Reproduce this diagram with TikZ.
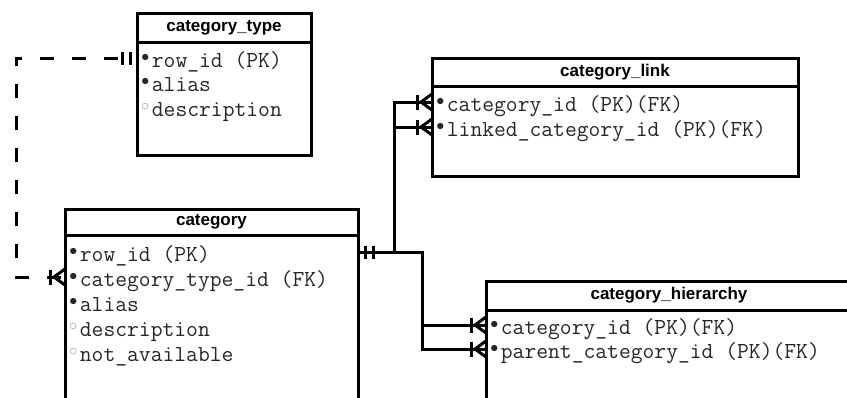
\documentclass[tikz,border=0pt]{standalone}
\usepackage{fontspec}
\setmainfont{Liberation Sans}
\usetikzlibrary{positioning}

% column marks: mandatory (filled) and nullable (open)
\newcommand{\req}{\raisebox{4.5pt}{$\scriptstyle\bullet$}\hspace{2pt}}
\newcommand{\opt}{\raisebox{4.5pt}{\color{black!40}$\scriptstyle\circ$}\hspace{2pt}}

\tikzset{
	tblhead/.style={draw, line width=2.25pt, outer sep=0pt, inner sep=0pt,
		font=\bfseries\fontsize{12.75}{14}\selectfont},
	tblbody/.style={draw, line width=2.25pt, outer sep=0pt, inner sep=0pt},
	col/.style={anchor=west, outer sep=0pt, inner xsep=3.2pt, inner ysep=0pt,
		text height=17pt, text depth=3pt, text=black!85,
		font=\ttfamily\fontsize{17.2}{19}\selectfont},
	rel/.style={line width=2.25pt},
	% one and only one
	one/.pic={
		\draw[rel] (-15,-6.5) -- (-15,6.5);
		\draw[rel] (-7,-6.5) -- (-7,6.5);
	},
	% one or many
	many/.pic={
		\draw[rel] (-15,-7.5) -- (-15,7.5);
		\draw[rel] (-11,0) -- (0,-8);
		\draw[rel] (-11,0) -- (0,8);
	},
}

\begin{document}
\begin{tikzpicture}[x=0.75pt, y=-0.75pt]
	\useasboundingbox (0,0) rectangle (847,397);
	\clip (0,0) rectangle (847,397);

	% Table category_type
	\node[tblhead, anchor=north west, minimum width=130.5pt, minimum height=21.75pt]
		(typehead) at (137,13) {category\_type};
	\node[tblbody, below=0pt of typehead, minimum width=130.5pt, minimum height=84.75pt] (type) {};
	\node[col] (type1) at (137,58) {\req row\_id (PK)};
	\node[col] (type2) at (137,82.5) {\req alias};
	\node[col] (type3) at (137,107) {\opt description};

	% Table category_link
	\node[tblhead, anchor=north west, minimum width=274.5pt, minimum height=21pt]
		(linkhead) at (432,58) {category\_link};
	\node[tblbody, below=0pt of linkhead, minimum width=274.5pt, minimum height=67.5pt] (link) {};
	\node[col] (link1) at (432,102) {\req category\_id (PK)(FK)};
	\node[col] (link2) at (432,127) {\req linked\_category\_id (PK)(FK)};

	% Table category
	\node[tblhead, anchor=north west, minimum width=219.75pt, minimum height=19.5pt]
		(cathead) at (65,209) {category};
	\node[tblbody, below=0pt of cathead, minimum width=219.75pt, minimum height=150pt] (cat) {};
	\node[col] (cat1) at (65,252) {\req row\_id (PK)};
	\node[col] (cat2) at (65,277) {\req category\_type\_id (FK)};
	\node[col] (cat3) at (65,302) {\req alias};
	\node[col] (cat4) at (65,327) {\opt description};
	\node[col] (cat5) at (65,352) {\opt not\_available};

	% Table category_hierarchy
	\node[tblhead, anchor=north west, minimum width=274.5pt, minimum height=21.75pt]
		(hierhead) at (486,281) {category\_hierarchy};
	\node[tblbody, below=0pt of hierhead, minimum width=274.5pt, minimum height=90pt] (hier) {};
	\node[col] (hier1) at (486,325) {\req category\_id (PK)(FK)};
	\node[col] (hier2) at (486,349) {\req parent\_category\_id (PK)(FK)};

	% category -> category_type (non identifying)
	\draw[rel, dash pattern=on 10.5pt off 13.5pt, dash phase=-3pt] (cat2.west) -- ++(-49,0) |- (type1.west);
	\pic at (cat2.west) {many};
	\pic at (type1.west) {one};

	% category -> category_link
	\draw[rel] (cat.east |- cat1.west) -- ++(36,0) |- (link1.west);
	\draw[rel] (cat.east |- cat1.west) -- ++(36,0) |- (link2.west);
	\pic at (link1.west) {many};
	\pic at (link2.west) {many};

	% category -> category_hierarchy
	\draw[rel] (cat.east |- cat1.west) -- ++(64,0) |- (hier1.west);
	\draw[rel] (cat.east |- cat1.west) -- ++(64,0) |- (hier2.west);
	\pic at (hier1.west) {many};
	\pic at (hier2.west) {many};

	\pic[rotate=180] at (cat.east |- cat1.west) {one};

\end{tikzpicture}
\end{document}
